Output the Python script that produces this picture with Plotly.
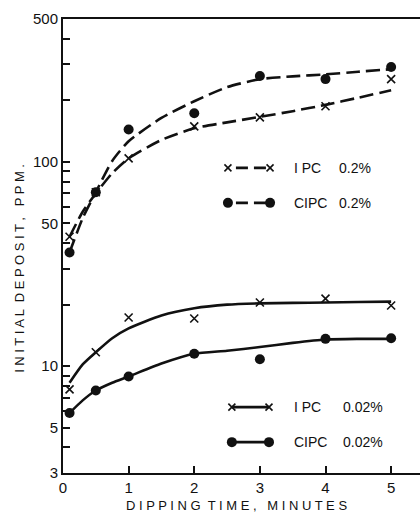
import plotly.graph_objects as go

# ---- data ----
x_pts = [0.1, 0.5, 1, 2, 3, 4, 5]
ipc_02 = [43, 71, 104, 149, 165, 187, 254]
cipc_02 = [36, 71, 144, 173, 263, 254, 291]
ipc_002 = [7.7, 11.7, 17.3, 17.1, 20.5, 21.4, 19.8]
cipc_002 = [5.9, 7.6, 8.9, 11.5, 10.8, 13.6, 13.7]

# fitted curves
x_fit = [0.1, 0.3, 0.5, 0.75, 1, 1.5, 2, 2.5, 3, 3.5, 4, 4.5, 5]
ipc_02_fit = [43, 57, 70, 88, 104, 128, 146, 156, 166, 177, 190, 206, 224]
cipc_02_fit = [36, 53, 71, 101, 126, 164, 198, 232, 254, 262, 268, 276, 284]
ipc_002_fit = [8.3, 10.2, 11.7, 13.7, 15.3, 17.7, 19.2, 20.0, 20.3, 20.4, 20.5, 20.6, 20.7]
cipc_002_fit = [5.9, 6.8, 7.6, 8.3, 8.9, 10.3, 11.5, 11.9, 12.4, 13.0, 13.5, 13.6, 13.6]

y_tickvals = [3, 4, 5, 6, 7, 8, 9, 10, 20, 30, 40, 50, 60, 70, 80, 90, 100, 200, 300, 400, 500]
y_ticktext = ["3", "", "5", "", "", "", "", "10", "", "", "", "50", "", "", "", "", "100", "", "", "", "500"]
x_tickvals = [0, 1, 2, 3, 4, 5]
x_ticktext = ["0", "1", "2", "3", "4", "5"]

legend_names = ["I PC", "CIPC", "I PC", "CIPC"]
legend_pcts = ["0.2%", "0.2%", "0.02%", "0.02%"]

FONT = "Liberation Sans"
INK = "#111111"

fig = go.Figure()

def curve(y, dash):
    fig.add_trace(go.Scatter(x=x_fit, y=y, mode="lines",
                             line=dict(color=INK, width=2.6, dash=dash, shape="spline", smoothing=0.6),
                             showlegend=False, hoverinfo="skip"))

def pts(y, sym):
    if sym == "x":
        m = dict(symbol="x-thin", size=8, line=dict(color=INK, width=1.6), color=INK)
    else:
        m = dict(symbol="circle", size=10, color=INK)
    fig.add_trace(go.Scatter(x=x_pts, y=y, mode="markers", marker=m, showlegend=False))

curve(ipc_02_fit, "14px,6px")
curve(cipc_02_fit, "14px,6px")
curve(ipc_002_fit, "solid")
curve(cipc_002_fit, "solid")
pts(ipc_02, "x")
pts(cipc_02, "o")
pts(ipc_002, "x")
pts(cipc_002, "o")

# ---- legend drawn as decorations (paper coordinates) ----
rows_y = [0.672, 0.595, 0.145, 0.068]
sym_x = [(0.462, 0.580), (0.462, 0.580), (0.473, 0.577), (0.473, 0.577)]
dashes = ["dash", "dash", "solid", "solid"]
syms = ["x", "o", "x", "o"]
pct_x = [0.768, 0.768, 0.779, 0.779]
shapes = []
annots = []
for i in range(4):
    x0, x1 = sym_x[i]
    y = rows_y[i]
    shapes.append(dict(type="line", xref="paper", yref="paper", x0=x0, x1=x1, y0=y, y1=y,
                       line=dict(color=INK, width=2.6,
                                 dash="0px,8px,12px,6px,12px,30px" if dashes[i] == "dash" else "solid")))
    for xx in (x0, x1):
        if syms[i] == "o":
            r = 5
            shapes.append(dict(type="circle", xref="paper", yref="paper", xsizemode="pixel", ysizemode="pixel",
                               xanchor=xx, yanchor=y, x0=-r, x1=r, y0=-r, y1=r,
                               fillcolor=INK, line=dict(color=INK, width=0)))
        else:
            r = 3.5
            shapes.append(dict(type="line", xref="paper", yref="paper", xsizemode="pixel", ysizemode="pixel",
                               xanchor=xx, yanchor=y, x0=-r, x1=r, y0=-r, y1=r, line=dict(color=INK, width=1.6)))
            shapes.append(dict(type="line", xref="paper", yref="paper", xsizemode="pixel", ysizemode="pixel",
                               xanchor=xx, yanchor=y, x0=-r, x1=r, y0=r, y1=-r, line=dict(color=INK, width=1.6)))
    annots.append(dict(xref="paper", yref="paper", x=0.641, y=y, text=legend_names[i], showarrow=False,
                       xanchor="left", yanchor="middle", font=dict(family=FONT, size=14, color=INK)))
    annots.append(dict(xref="paper", yref="paper", x=pct_x[i], y=y, text=legend_pcts[i], showarrow=False,
                       xanchor="left", yanchor="middle", font=dict(family=FONT, size=14, color=INK)))

annots.append(dict(xref="paper", yref="paper", x=-0.12, y=0.45, text="I N I T I A L  D E P O S I T ,   P P M .",
                   textangle=-90, showarrow=False, xanchor="center", yanchor="middle",
                   font=dict(family=FONT, size=13, color=INK)))
annots.append(dict(xref="paper", yref="paper", x=0.485, y=-0.05, text="D I P P I N G  T I M E ,   M I N U T E S",
                   showarrow=False, xanchor="center", yanchor="top",
                   font=dict(family=FONT, size=13, color=INK)))

fig.update_layout(
    width=420, height=515,
    margin=dict(l=63, r=0, t=19, b=42),
    paper_bgcolor="white", plot_bgcolor="white",
    shapes=shapes, annotations=annots,
    font=dict(family=FONT, size=15, color=INK),
)
fig.update_xaxes(range=[0, 5.44], showgrid=False, zeroline=False, showline=True, linecolor=INK, linewidth=2,
                 mirror=True, ticks="inside", ticklen=7, tickwidth=1.5, tickcolor=INK,
                 tickvals=x_tickvals, ticktext=x_ticktext, tickfont=dict(family=FONT, size=15, color=INK))
fig.update_yaxes(type="log", range=[0.4771, 2.699], showgrid=False, zeroline=False, showline=True, linecolor=INK,
                 linewidth=2, ticks="inside", ticklen=7, tickwidth=1.5, tickcolor=INK,
                 tickvals=y_tickvals, ticktext=y_ticktext, tickfont=dict(family=FONT, size=15, color=INK))

fig.write_html("out.html", config={"displayModeBar": False},
               post_script="document.body.style.margin='0';")
